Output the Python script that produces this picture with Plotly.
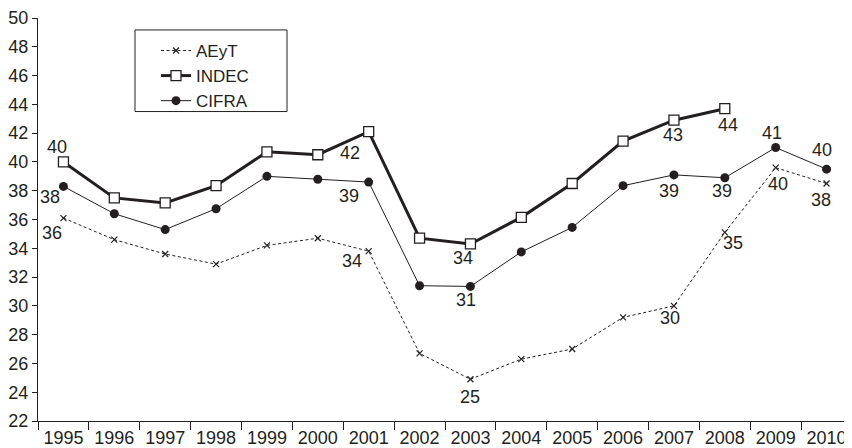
import plotly.graph_objects as go

years = [str(y) for y in range(1995, 2011)]
aeyt = [36.1, 34.6, 33.6, 32.9, 34.2, 34.7, 33.8, 26.7, 24.9, 26.3, 27.0, 29.2, 30.0, 35.1, 39.6, 38.5]
indec = [40.0, 37.5, 37.15, 38.35, 40.7, 40.5, 42.1, 34.7, 34.3, 36.15, 38.5, 41.45, 42.9, 43.7, None, None]
cifra = [38.3, 36.4, 35.3, 36.75, 39.0, 38.8, 38.6, 31.4, 31.35, 33.75, 35.45, 38.35, 39.1, 38.9, 41.0, 39.5]

aeyt_labels = {"1995": "36", "2001": "34", "2003": "25", "2007": "30", "2008": "35", "2009": "40", "2010": "38"}
indec_labels = {"1995": "40", "2001": "42", "2003": "34", "2007": "43", "2008": "44"}
cifra_labels = {"1995": "38", "2001": "39", "2003": "31", "2007": "39", "2008": "39", "2009": "41", "2010": "40"}

# label offsets (px) relative to the data point
aeyt_off = {"1995": (-11, -15), "2001": (-17, -10), "2003": (0, -18), "2007": (-4, -12),
            "2008": (8, -11), "2009": (2, -16), "2010": (-6, -16)}
indec_off = {"1995": (-6, 15), "2001": (-19, -21), "2003": (-7, -14), "2007": (-1, -15), "2008": (3, -16)}
cifra_off = {"1995": (-13, -11), "2001": (-20, -14), "2003": (-4, -14), "2007": (-5, -16),
             "2008": (-3, -13), "2009": (-4, 15), "2010": (-5, 19)}

FONT = "Liberation Sans, Arial, sans-serif"
FS = 18
INK = "#231f20"

# the page body has an 8px margin; the figure is sized so it ends at the window edge
W, H = 844, 440
L, T, B = 30, 9, 26
PW, PH = W - L, H - T - B

fig = go.Figure()
fig.add_trace(go.Scatter(
    x=years, y=aeyt, name="AEyT", mode="lines+markers",
    line=dict(color=INK, width=1, dash="3px,2.5px"),
    marker=dict(symbol="x-thin-open", size=6, line=dict(color=INK, width=1.2), color=INK),
))
fig.add_trace(go.Scatter(
    x=years, y=indec, name="INDEC", mode="lines+markers",
    line=dict(color=INK, width=3),
    marker=dict(symbol="square", size=10, color="white", line=dict(color=INK, width=1.3)),
))
fig.add_trace(go.Scatter(
    x=years, y=cifra, name="CIFRA", mode="lines+markers",
    line=dict(color=INK, width=1),
    marker=dict(symbol="circle", size=9, color=INK),
))

annotations = []
for series, labels, offs in ((aeyt, aeyt_labels, aeyt_off), (indec, indec_labels, indec_off),
                             (cifra, cifra_labels, cifra_off)):
    for yr, txt in labels.items():
        i = years.index(yr)
        dx, dy = offs[yr]
        annotations.append(dict(
            x=i, y=series[i], xref="x", yref="y", text=txt, showarrow=False,
            xshift=dx, yshift=dy, xanchor="center", yanchor="middle",
            font=dict(family=FONT, size=FS, color=INK),
        ))

# legend box (page pixels 135..287 x 29..111)
bx0, bx1, by0, by1 = 135 - 8, 287 - 8, 29 - 8, 111 - 8

fig.update_layout(
    width=W, height=H,
    margin=dict(l=L, r=0, t=T, b=B),
    paper_bgcolor="white", plot_bgcolor="white",
    font=dict(family=FONT, size=FS, color=INK),
    showlegend=True,
    legend=dict(x=(bx0 - L + 21) / PW, y=1 - (by0 + 3 - T) / PH, xanchor="left", yanchor="top",
                bgcolor="rgba(0,0,0,0)", borderwidth=0,
                font=dict(family=FONT, size=17, color=INK),
                tracegroupgap=0, itemwidth=30),
    annotations=annotations,
    shapes=[dict(type="rect", xref="paper", yref="paper",
                 x0=(bx0 - L) / PW, x1=(bx1 - L) / PW,
                 y0=1 - (by1 - T) / PH, y1=1 - (by0 - T) / PH,
                 line=dict(color=INK, width=1), fillcolor="rgba(0,0,0,0)")],
)
fig.update_xaxes(
    type="category", range=[-0.5, 15.5], showgrid=False, zeroline=False,
    showline=True, linecolor=INK, linewidth=1, tickangle=0,
    ticks="outside", tickson="boundaries", ticklen=8, tickcolor=INK, tickwidth=1,
    tickfont=dict(family=FONT, size=FS, color=INK), ticklabeloverflow="allow",
)
fig.update_yaxes(
    range=[22, 50], dtick=2, showgrid=False, zeroline=False,
    showline=True, linecolor=INK, linewidth=1,
    ticks="outside", ticklen=5, tickcolor=INK, tickwidth=1,
    tickfont=dict(family=FONT, size=FS, color=INK), ticklabeloverflow="allow",
)
fig.write_html("out.html")
